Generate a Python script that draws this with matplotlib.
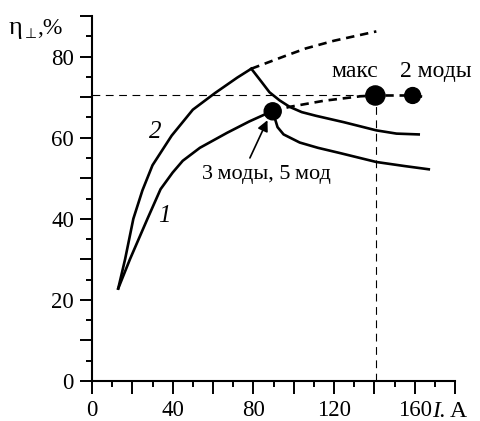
import numpy as np
import matplotlib.pyplot as plt
from matplotlib.ticker import MultipleLocator, FuncFormatter

plt.rcParams['font.family'] = ['Liberation Serif', 'DejaVu Serif']

# curve 2 (upper)
I2_up = [13, 16.4, 20.5, 25, 30, 39.5, 50, 61, 72, 79]
eta2_up = [22.8, 30, 40, 47, 53.2, 60.5, 66.9, 71.0, 74.8, 77]
I2_down = [79, 84, 88, 93, 98, 104, 111, 125, 141, 151, 162]
eta2_down = [77, 73.8, 71.2, 69.2, 67.6, 66.3, 65.4, 63.8, 61.8, 61.0, 60.8]
I2_dash = [79, 95, 106, 120, 141]
eta2_dash = [77, 80.0, 82.0, 83.9, 86.2]

# curve 1 (lower)
I1_up = [13, 18.8, 27.5, 34, 40, 45, 53.5, 67, 78, 86, 89.6]
eta1_up = [22.8, 30, 40, 47.3, 51.4, 54.3, 57.5, 61.2, 64.0, 65.8, 66.5]
I1_down = [89.6, 92, 95, 103, 112, 123, 141, 155, 167]
eta1_down = [66.5, 62.6, 60.8, 58.8, 57.5, 56.2, 54.0, 53.0, 52.2]
I1_dash = [89.6, 98, 115, 133, 140.5, 159, 166]
eta1_dash = [66.5, 67.6, 69.1, 70.2, 70.4, 70.4, 70.0]

# marked points
I_pts = [89.6, 140.5, 159]
eta_pts = [66.5, 70.4, 70.4]
I_max, eta_max = 141, 70.5

fig = plt.figure(figsize=(4.81, 4.21), dpi=100)
ax = fig.add_axes([92/481, 40/421, 363/481, 365/421])

ax.plot(I2_up, eta2_up, 'k-', lw=1.9)
ax.plot(I2_down, eta2_down, 'k-', lw=1.9)
ax.plot(I2_dash, eta2_dash, 'k--', lw=1.9, dashes=(3.2, 2.2))
ax.plot(I1_up, eta1_up, 'k-', lw=1.9)
ax.plot(I1_down, eta1_down, 'k-', lw=1.9)
ax.plot(I1_dash, eta1_dash, 'k--', lw=1.9, dashes=(3.2, 2.2))

# reference lines
ax.plot([0, I_max], [eta_max, eta_max], 'k--', lw=0.8, dashes=(7, 5))
ax.plot([I_max, I_max], [0, eta_max], 'k--', lw=0.8, dashes=(7, 5))

ax.scatter(I_pts, eta_pts, s=[150, 190, 130], color='k', zorder=3)

ax.set_xlim(0, 180)
ax.set_ylim(0, 90)
for s in ['top', 'right']:
    ax.spines[s].set_visible(False)
for s in ['left', 'bottom']:
    ax.spines[s].set_linewidth(1.5)

ax.xaxis.set_major_locator(MultipleLocator(20))
ax.xaxis.set_minor_locator(MultipleLocator(10))
ax.yaxis.set_major_locator(MultipleLocator(10))
ax.yaxis.set_minor_locator(MultipleLocator(5))
ax.xaxis.set_major_formatter(FuncFormatter(lambda v, p: f'{v:.0f}' if v % 40 == 0 and v < 170 else ''))
ax.yaxis.set_major_formatter(FuncFormatter(lambda v, p: f'{v:.0f}' if v % 20 == 0 and v < 85 else ''))
ax.tick_params(which='major', direction='out', length=9, width=1.4, labelsize=16.5, pad=5)
ax.tick_params(which='minor', direction='out', length=4, width=1.4)
ax.tick_params(axis='y', which='major', pad=4)

# axis labels
fig.text(9/481, 1 - 34/421, 'η', fontsize=19, ha='left', va='baseline')
fig.text(25/481, 1 - 38/421, '⊥', fontsize=10, ha='left', va='baseline',
         family=['DejaVu Sans'])
fig.text(37/481, 1 - 34/421, ',%', fontsize=17, ha='left', va='baseline')
ax.text(168.8, -7.4, 'I.', fontsize=17, style='italic', ha='left', va='center', clip_on=False)
ax.text(177.5, -7.4, 'A', fontsize=17, ha='left', va='center', clip_on=False)

# curve labels and annotations
ax.text(31.5, 61.5, '2', fontsize=18, style='italic', ha='center', va='center')
ax.text(36, 40.6, '1', fontsize=18, style='italic', ha='center', va='center')
ax.text(130.5, 76.3, 'макс', fontsize=17, ha='center', va='center')
ax.text(170.5, 76.3, '2 моды', fontsize=17, ha='center', va='center')
ax.text(86.3, 50.8, '3\u2009моды, 5\u2009мод', fontsize=16, ha='center', va='center')
ax.annotate('', xy=(87.0, 64.3), xytext=(78.3, 55.0),
            arrowprops=dict(arrowstyle='-|>', color='k', lw=1.2,
                            mutation_scale=16, shrinkA=0, shrinkB=0))

fig.savefig('out.png', dpi=100)
